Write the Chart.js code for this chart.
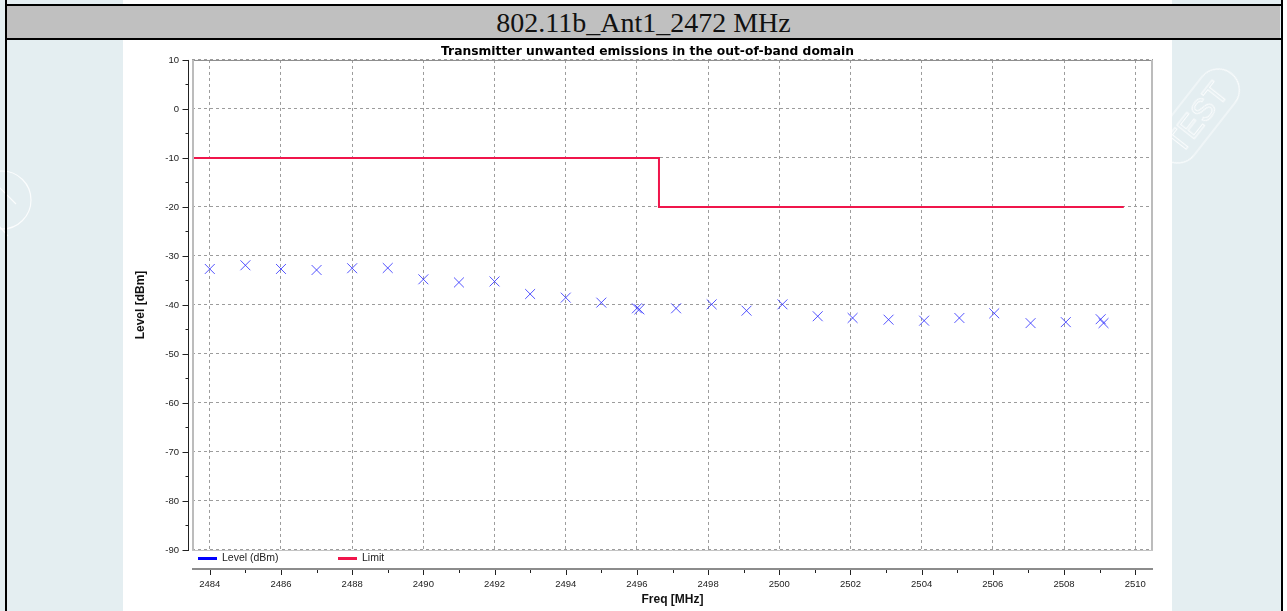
<!DOCTYPE html>
<html>
<head>
<meta charset="utf-8">
<title>802.11b_Ant1_2472 MHz</title>
<script src="https://cdn.jsdelivr.net/npm/chart.js@4.4.1/dist/chart.umd.min.js"></script>
<style>
  html, body { margin: 0; padding: 0; }
  body { width: 1287px; height: 611px; position: relative; overflow: hidden; background: #e4eef1; }
  .blk { position: absolute; background: #000; }
  .header {
    position: absolute; left: 7px; top: 6px; width: 1273px; height: 32px;
    background: #c0c0c0; color: #111; text-align: center;
    font: 28px "Liberation Serif", "Times New Roman", serif; line-height: 33px;
  }
  .sheet { position: absolute; left: 123px; width: 1049px; background: #fff; }
  .right-edge { position: absolute; left: 1283px; top: 0; width: 4px; height: 611px; background: #fff; }
  #stamps { position: absolute; left: 0; top: 0; }
  #chartBox { position: absolute; left: 123px; top: 40px; width: 1049px; height: 571px; }
</style>
</head>
<body>
<div class="sheet" style="top:0;height:4px"></div>
<div class="right-edge"></div>
<svg id="stamps" width="1287" height="611">
  <g fill="none" stroke="#ffffff" stroke-width="1.2" opacity="0.85">
    <g transform="translate(1198,116) rotate(-52)">
      <rect x="-54" y="-21" width="108" height="42" rx="21"/>
      <text x="-2" y="11" font-family="Liberation Sans, Arial" font-size="31" text-anchor="middle" stroke-width="1">TEST</text>
    </g>
    <circle cx="2" cy="200" r="29"/>
    <path d="M-8 180 L16 204 M-12 214 L8 236"/>
  </g>
</svg>
<div class="blk" style="left:5px;top:4px;width:1278px;height:2px"></div>
<div class="header">802.11b_Ant1_2472 MHz</div>
<div class="blk" style="left:5px;top:38px;width:1278px;height:2px"></div>
<div class="blk" style="left:5px;top:0;width:2px;height:611px"></div>
<div class="blk" style="left:1281px;top:0;width:2px;height:611px"></div>
<div class="sheet" style="top:40px;height:571px"></div>
<div id="chartBox"><canvas id="emissions" width="1049" height="571"></canvas></div>

<script>
// measured level at each marker frequency (MHz, dBm)
const levelFreq = [2484, 2485, 2486, 2487, 2488, 2489, 2490, 2491, 2492, 2493, 2494, 2495, 2496, 2496.07,
    2497.1, 2498.1, 2499.08, 2500.09, 2501.08, 2502.06, 2503.07, 2504.07, 2505.06, 2506.04, 2507.06, 2508.05, 2509.03, 2509.11];
const levelDbm = [-32.65, -31.9, -32.65, -32.86, -32.5, -32.45, -34.76, -35.4, -35.2, -37.76, -38.5, -39.52, -40.68, -40.89,
    -40.68, -39.87, -41.16, -39.87, -42.3, -42.65, -43.0, -43.2, -42.65, -41.7, -43.7, -43.5, -42.9, -43.7];

// limit mask
const limitFreq = [2483.5, 2496.62, 2496.62, 2509.68];
const limitDbm = [-10, -10, -20, -20];

const xTicks = [2484, 2486, 2488, 2490, 2492, 2494, 2496, 2498, 2500, 2502, 2504, 2506, 2508, 2510];
const yTicks = [-90, -80, -70, -60, -50, -40, -30, -20, -10, 0, 10];

const LEVEL_COLOR = 'rgba(40, 40, 255, 0.8)';
const LIMIT_COLOR = '#f0154b';

Chart.defaults.font.family = '"Liberation Sans", Arial, sans-serif';
Chart.defaults.color = '#222';

const frameAndAxes = {
    id: 'frameAndAxes',
    afterDraw: function (chart) {
        const ctx = chart.ctx
        const a = chart.chartArea
        const x = chart.scales.x
        const y = chart.scales.y
        ctx.save()

        // plot frame
        ctx.lineWidth = 1
        ctx.strokeStyle = '#8a8a8a'
        ctx.beginPath(); ctx.moveTo(a.left, a.top + 0.5); ctx.lineTo(a.right, a.top + 0.5); ctx.stroke()
        ctx.strokeStyle = '#c4c4c4'
        ctx.beginPath(); ctx.moveTo(a.left, a.bottom + 0.5); ctx.lineTo(a.right, a.bottom + 0.5); ctx.stroke()
        ctx.lineWidth = 2
        ctx.strokeStyle = '#bcbcbc'
        ctx.beginPath(); ctx.moveTo(a.left + 1, a.top); ctx.lineTo(a.left + 1, a.bottom); ctx.stroke()
        ctx.beginPath(); ctx.moveTo(a.right - 1, a.top); ctx.lineTo(a.right - 1, a.bottom); ctx.stroke()

        // y axis, set off from the frame
        const yx = a.left - 3.5
        ctx.lineWidth = 1
        ctx.strokeStyle = '#222'
        ctx.beginPath(); ctx.moveTo(yx, a.top); ctx.lineTo(yx, a.bottom + 1); ctx.stroke()
        for (let v = y.min; v <= y.max; v += 5) {
            const py = Math.round(y.getPixelForValue(v)) + 0.5
            const len = v % 10 === 0 ? 6 : 3
            ctx.beginPath(); ctx.moveTo(yx - len, py); ctx.lineTo(yx, py); ctx.stroke()
        }

        // x axis below the legend strip
        const xy = a.bottom + 19
        ctx.lineWidth = 2
        ctx.strokeStyle = '#8c8c8c'
        ctx.beginPath(); ctx.moveTo(a.left, xy); ctx.lineTo(a.right, xy); ctx.stroke()
        ctx.lineWidth = 1
        ctx.strokeStyle = '#222'
        for (let v = Math.ceil(x.min); v <= x.max; v++) {
            const px = Math.round(x.getPixelForValue(v)) + 0.5
            const len = v % 2 === 0 ? 5 : 3
            ctx.beginPath(); ctx.moveTo(px, xy + 1); ctx.lineTo(px, xy + 1 + len); ctx.stroke()
        }

        // legend
        const ly = a.bottom + 8
        ctx.font = '10.5px "Liberation Sans", Arial, sans-serif'
        ctx.textBaseline = 'middle'
        const items = [
            { label: chart.data.datasets[0].label, color: '#0000ff', at: 6 },
            { label: chart.data.datasets[1].label, color: LIMIT_COLOR, at: 146 }
        ]
        items.forEach(function (it) {
            ctx.fillStyle = it.color
            ctx.fillRect(a.left + it.at, ly - 1, 19, 3)
            ctx.fillStyle = '#222'
            ctx.fillText(it.label, a.left + it.at + 24, ly + 0.5)
        })
        ctx.restore()
    }
};

const plainLabel = function (value) { return String(value) };

new Chart(document.getElementById('emissions'), {
    type: 'scatter',
    data: {
        datasets: [
            {
                label: 'Level (dBm)',
                data: levelFreq.map(function (f, i) { return { x: f, y: levelDbm[i] } }),
                pointStyle: 'crossRot',
                pointRadius: 7,
                pointHoverRadius: 7,
                borderColor: LEVEL_COLOR,
                backgroundColor: LEVEL_COLOR,
                borderWidth: 1
            },
            {
                label: 'Limit',
                data: limitFreq.map(function (f, i) { return { x: f, y: limitDbm[i] } }),
                showLine: true,
                pointRadius: 0,
                borderColor: LIMIT_COLOR,
                borderWidth: 2
            }
        ]
    },
    options: {
        responsive: false,
        animation: false,
        events: [],
        layout: { padding: 0 },
        plugins: {
            legend: { display: false },
            tooltip: { enabled: false },
            title: {
                display: true,
                text: 'Transmitter unwanted emissions in the out-of-band domain',
                color: '#000',
                font: { family: '"DejaVu Sans", Verdana, sans-serif', size: 12.3, weight: 'bold' },
                padding: { top: 4.2, bottom: 1.0 }
            }
        },
        scales: {
            x: {
                type: 'linear',
                min: 2483.5,
                max: 2510.5,
                afterBuildTicks: function (scale) { scale.ticks = xTicks.map(function (v) { return { value: v } }) },
                afterFit: function (scale) {
                    scale.height = 61
                    scale.paddingRight = 19
                },
                border: { display: false, dash: [3, 3] },
                // invisible tick marks only push the labels below the legend strip
                grid: { color: '#9c9c9c', lineWidth: 1, drawTicks: true, tickLength: 27, tickColor: 'rgba(0,0,0,0)' },
                ticks: { padding: 2, font: { size: 9.5 }, color: '#222', maxRotation: 0, autoSkip: false, callback: plainLabel },
                title: {
                    display: true,
                    text: 'Freq [MHz]',
                    color: '#111',
                    font: { size: 12, weight: 'bold' },
                    padding: { top: 0, bottom: 4 }
                }
            },
            y: {
                min: -90,
                max: 10,
                afterBuildTicks: function (scale) { scale.ticks = yTicks.map(function (v) { return { value: v } }) },
                afterFit: function (scale) { scale.width = 69 },
                border: { display: false, dash: [3, 3] },
                grid: { color: '#9c9c9c', lineWidth: 1, drawTicks: false },
                ticks: { padding: 13, font: { size: 9.5 }, color: '#222', autoSkip: false, callback: plainLabel },
                title: {
                    display: true,
                    text: 'Level [dBm]',
                    color: '#111',
                    font: { size: 12, weight: 'bold' },
                    padding: { top: 10, bottom: 0 }
                }
            }
        }
    },
    plugins: [frameAndAxes]
});
</script>
</body>
</html>
